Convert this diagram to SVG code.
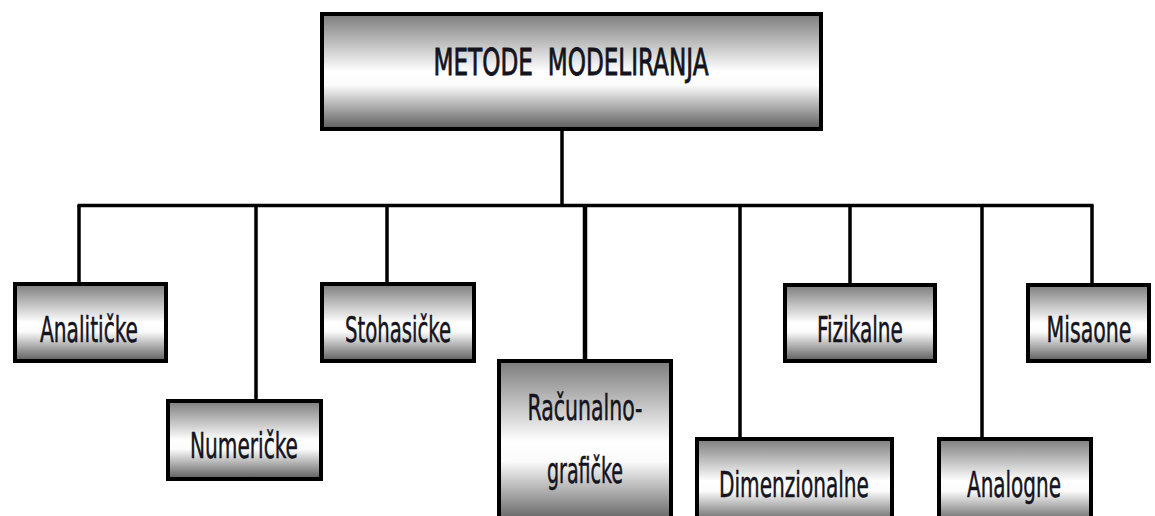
<svg xmlns="http://www.w3.org/2000/svg" width="1155" height="516" viewBox="0 0 1155 516">
<defs>
<linearGradient id="g" x1="0" y1="0" x2="0" y2="1">
<stop offset="0" stop-color="#7c7c7c"/>
<stop offset="0.5" stop-color="#ffffff"/>
<stop offset="0.62" stop-color="#fbfbfb"/>
<stop offset="1" stop-color="#5c5c5c"/>
</linearGradient>
</defs>
<style>
.box{fill:url(#g);stroke:#000;stroke-width:4}
.lbl{font-family:"Liberation Sans Narrow","DejaVu Sans Condensed","Open Sans",sans-serif;font-size:35px;fill:#141420;stroke:#141420;stroke-width:0.5;text-anchor:middle}
.c{stroke:#000;stroke-width:3.5;fill:none}
</style>
<rect width="1155" height="516" fill="#fff"/>
<g id="connectors">
<line class="c" x1="562" y1="131" x2="562" y2="205.5"/>
<line class="c" x1="77.5" y1="205.5" x2="1093.5" y2="205.5"/>
<line class="c" x1="79" y1="205" x2="79" y2="283"/>
<line class="c" x1="256" y1="205" x2="256" y2="400"/>
<line class="c" x1="387" y1="205" x2="387" y2="283"/>
<line class="c" x1="585" y1="205" x2="585" y2="360" style="stroke-width:4.5"/>
<line class="c" x1="740" y1="205" x2="740" y2="438"/>
<line class="c" x1="850" y1="205" x2="850" y2="284"/>
<line class="c" x1="982" y1="205" x2="982" y2="438"/>
<line class="c" x1="1092" y1="205" x2="1092" y2="284"/>
</g>
<g id="metode-modeliranja">
<rect class="box" x="322" y="14" width="499" height="115"/>
<text class="lbl" x="571" y="75" xml:space="preserve" textLength="275" lengthAdjust="spacingAndGlyphs" style="font-size:37px;stroke-width:0.8">METODE  MODELIRANJA</text>
</g>
<g id="analiticke">
<rect class="box" x="15" y="284" width="151" height="77"/>
<text class="lbl" x="89" y="342" textLength="98" lengthAdjust="spacingAndGlyphs">Analitičke</text>
</g>
<g id="numericke">
<rect class="box" x="168" y="401" width="153" height="78"/>
<text class="lbl" x="244" y="458" textLength="108" lengthAdjust="spacingAndGlyphs">Numeričke</text>
</g>
<g id="stohasicke">
<rect class="box" x="322" y="284" width="152" height="77"/>
<text class="lbl" x="398" y="342" textLength="106" lengthAdjust="spacingAndGlyphs">Stohasičke</text>
</g>
<g id="racunalno-graficke">
<rect class="box" x="499" y="361" width="172" height="162"/>
<text class="lbl" x="585" y="420" textLength="115" lengthAdjust="spacingAndGlyphs">Računalno-</text>
<text class="lbl" x="585" y="483" textLength="76" lengthAdjust="spacingAndGlyphs">grafičke</text>
</g>
<g id="dimenzionalne">
<rect class="box" x="697" y="439" width="195" height="84"/>
<text class="lbl" x="794" y="497" textLength="150" lengthAdjust="spacingAndGlyphs">Dimenzionalne</text>
</g>
<g id="fizikalne">
<rect class="box" x="785" y="285" width="150" height="76"/>
<text class="lbl" x="860" y="342" textLength="86" lengthAdjust="spacingAndGlyphs">Fizikalne</text>
</g>
<g id="analogne">
<rect class="box" x="939" y="439" width="152" height="84"/>
<text class="lbl" x="1014" y="497" textLength="94" lengthAdjust="spacingAndGlyphs">Analogne</text>
</g>
<g id="misaone">
<rect class="box" x="1028" y="285" width="121" height="76"/>
<text class="lbl" x="1089" y="342" textLength="85" lengthAdjust="spacingAndGlyphs">Misaone</text>
</g>
</svg>
